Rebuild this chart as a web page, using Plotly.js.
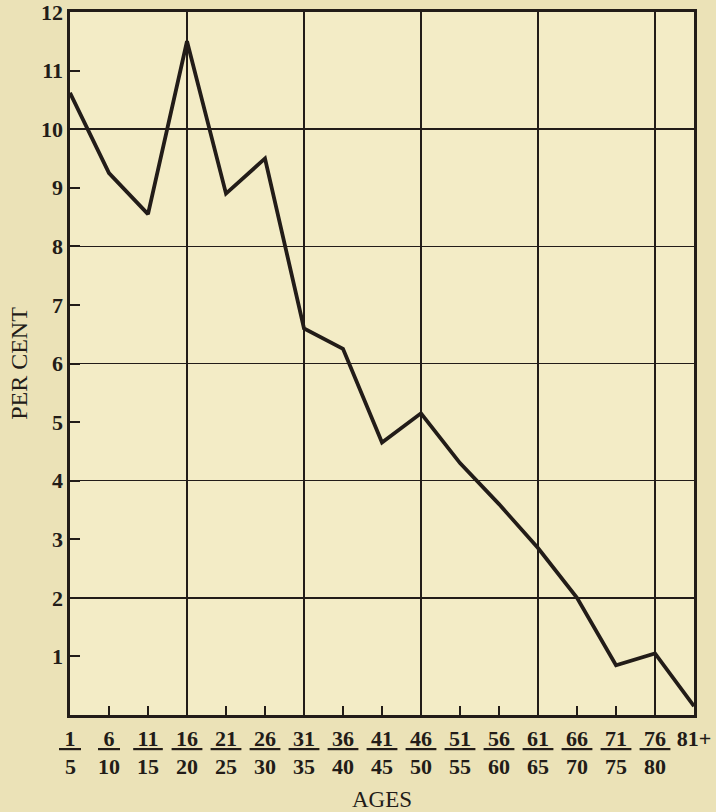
<!DOCTYPE html>
<html>
<head>
<meta charset="utf-8">
<script src="https://cdn.plot.ly/plotly-3.0.1.min.js"></script>
<style>html,body{margin:0;padding:0;background:#ebe2b7;}</style>
</head>
<body>
<div id="chart" style="width:716px;height:812px;"></div>
<script>
// Age groups: numerator (lower bound) and denominator (upper bound)
var ageFrom = ['1','6','11','16','21','26','31','36','41','46','51','56','61','66','71','76','81+'];
var ageTo   = ['5','10','15','20','25','30','35','40','45','50','55','60','65','70','75','80',''];
// Per cent values
var perCent = [10.62, 9.25, 8.55, 11.5, 8.9, 9.5, 6.6, 6.25, 4.65, 5.15, 4.3, 3.6, 2.85, 2.0, 0.85, 1.05, 0.15];
var yTickVals = [1,2,3,4,5,6,7,8,9,10,11,12];
var yGridVals = [2,4,6,8,10];
var xGridEvery = 3;

var idx = ageFrom.map(function(_, i){ return i; });
var xGridVals = idx.filter(function(i){ return i > 0 && i < idx.length - 1 && i % xGridEvery === 0; });

var ink = '#221c18';
var fontNum = {family: '"Liberation Serif", "Times New Roman", serif', size: 22, color: ink};

var nb = '\u00a0';
var numText = ageFrom.map(function(s, i){
  if (!ageTo[i]) return '<b>' + s + '</b>';
  var pad = s.length === 1 ? nb : '\u2009';
  return '<b><u>' + pad + s + pad + '</u></b>';
});
var yText = yTickVals.map(function(v){ return '<b>' + v + '</b>'; });

var traces = [
  {x: idx, y: perCent, xaxis: 'x', yaxis: 'y', mode: 'lines', line: {width: 0, color: 'rgba(0,0,0,0)'}, hoverinfo: 'skip', showlegend: false},
  {x: idx, y: perCent, xaxis: 'x2', yaxis: 'y2', mode: 'lines', line: {width: 3.8, color: ink}, showlegend: false}
];

var annotations = ageTo.map(function(d, i){
  return {x: i, xref: 'x2', y: -0.073, yref: 'paper', text: '<b>' + d + '</b>', showarrow: false,
          font: fontNum, xanchor: 'center', yanchor: 'middle'};
}).filter(function(a, i){ return ageTo[i] !== ''; });

var layout = {
  width: 716, height: 812,
  margin: {l: 70, r: 22, t: 12, b: 97},
  paper_bgcolor: '#ebe2b7',
  plot_bgcolor: '#f3ecc6',
  showlegend: false,
  xaxis: {range: [0, idx.length - 1], tickvals: xGridVals, showgrid: true, gridcolor: ink, gridwidth: 1.6,
          showticklabels: false, ticks: '', zeroline: false, showline: true, mirror: true, linewidth: 3, linecolor: ink, fixedrange: true},
  yaxis: {range: [0, 12], tickvals: yGridVals, showgrid: true, gridcolor: ink, gridwidth: 1.6,
          showticklabels: false, ticks: '', zeroline: false, showline: true, mirror: true, linewidth: 3, linecolor: ink, fixedrange: true},
  xaxis2: {overlaying: 'x', anchor: 'y2', side: 'bottom', range: [0, idx.length - 1], tickvals: idx, ticktext: numText,
           ticks: 'inside', ticklen: 9, tickwidth: 2, tickcolor: ink, showgrid: false, zeroline: false, showline: false,
           tickfont: fontNum, ticklabelstandoff: 8, ticklabeloverflow: 'allow',
           title: {text: 'AGES', font: {family: '"Liberation Serif", serif', size: 23, color: ink}, standoff: 42}},
  yaxis2: {overlaying: 'y', anchor: 'x2', side: 'left', range: [0, 12], tickvals: yTickVals, ticktext: yText,
           ticks: 'inside', ticklen: 10, tickwidth: 2, tickcolor: ink, showgrid: false, zeroline: false, showline: false,
           tickfont: fontNum, ticklabelstandoff: 6, ticklabeloverflow: 'allow',
           title: {text: 'PER CENT', font: {family: '"Liberation Serif", serif', size: 24, color: ink}, standoff: 6}},
  annotations: annotations
};

Plotly.newPlot('chart', traces, layout, {displayModeBar: false, staticPlot: true});
</script>
</body>
</html>
